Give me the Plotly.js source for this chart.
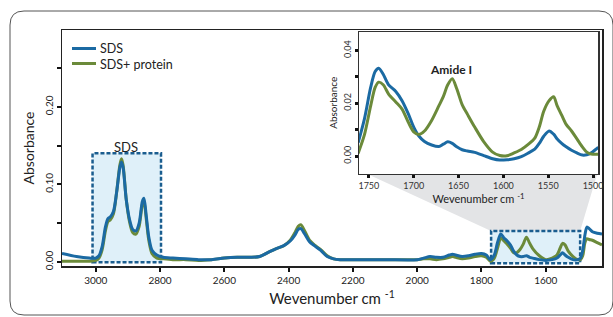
<!DOCTYPE html>
<html>
<head>
<meta charset="utf-8">
<script src="https://cdn.plot.ly/plotly-3.0.1.min.js"></script>
<style>html,body{margin:0;padding:0;background:#fff;}#chart{width:613px;height:317px;}</style>
</head>
<body>
<div id="chart"></div>
<script>
// Main spectrum (wavenumber, cm^-1, descending)
var wavenumber = [3105,3060,3020,3000,2990,2980,2970,2962,2955,2945,2935,2925,2920,2915,2905,2895,2885,2875,2865,2855,2850,2843,2835,2825,2810,2790,2760,2720,2680,2640,2600,2560,2520,2490,2465,2440,2415,2395,2380,2370,2362,2350,2335,2320,2300,2280,2260,2240,2200,2100,2000,1980,1960,1940,1920,1900,1890,1880,1860,1840,1820,1800,1785,1772,1760,1750,1740,1730,1720,1710,1700,1690,1680,1670,1660,1650,1640,1620,1600,1580,1565,1555,1548,1540,1530,1515,1500,1492,1485,1478,1472,1465,1455,1440,1425];
var sds = [0.011,0.007,0.005,0.005,0.008,0.020,0.045,0.056,0.058,0.065,0.090,0.122,0.129,0.122,0.080,0.055,0.042,0.040,0.050,0.078,0.082,0.060,0.032,0.015,0.009,0.006,0.005,0.004,0.003,0.003,0.005,0.006,0.006,0.007,0.012,0.017,0.021,0.027,0.035,0.042,0.043,0.036,0.026,0.021,0.015,0.007,0.004,0.003,0.003,0.003,0.003,0.005,0.007,0.006,0.006,0.009,0.010,0.009,0.007,0.008,0.010,0.011,0.009,0.003,0.009,0.025,0.036,0.031,0.027,0.022,0.014,0.009,0.007,0.007,0.008,0.006,0.005,0.003,0.002,0.003,0.005,0.009,0.012,0.009,0.006,0.003,0.003,0.005,0.015,0.035,0.045,0.043,0.039,0.037,0.036];
var sdsProtein = [0.001,0.001,0.001,0.002,0.005,0.016,0.040,0.052,0.054,0.062,0.090,0.125,0.133,0.125,0.080,0.052,0.038,0.036,0.046,0.074,0.078,0.056,0.028,0.011,0.005,0.004,0.003,0.003,0.002,0.003,0.005,0.006,0.006,0.007,0.012,0.017,0.021,0.028,0.038,0.046,0.048,0.040,0.028,0.022,0.016,0.008,0.004,0.003,0.003,0.003,0.003,0.004,0.004,0.003,0.004,0.006,0.007,0.006,0.004,0.005,0.007,0.008,0.006,0.001,0.005,0.018,0.031,0.027,0.023,0.018,0.012,0.012,0.016,0.023,0.032,0.024,0.017,0.008,0.003,0.005,0.009,0.018,0.024,0.022,0.014,0.007,0.003,0.003,0.008,0.025,0.030,0.029,0.028,0.025,0.022];

// Inset: amide region
var insetWavenumber = [1762,1755,1748,1743,1739,1734,1728,1720,1713,1706,1700,1694,1688,1680,1672,1667,1662,1657,1652,1646,1640,1632,1622,1612,1604,1596,1588,1580,1572,1565,1560,1555,1549,1544,1540,1535,1530,1524,1518,1512,1507,1502,1496,1494];
var insetSds = [0.005,0.014,0.026,0.032,0.0333,0.031,0.027,0.0245,0.021,0.016,0.011,0.0075,0.0055,0.0042,0.0036,0.0045,0.0054,0.0048,0.0035,0.0024,0.0019,0.0014,0.0002,-0.001,-0.0015,-0.0014,-0.001,-0.0002,0.0012,0.0026,0.0048,0.0075,0.0095,0.0083,0.0065,0.0048,0.0035,0.0022,0.0012,0.0004,0.0005,0.0012,0.0028,0.0032];
var insetSdsProtein = [0.001,0.008,0.019,0.026,0.028,0.027,0.0235,0.0205,0.0178,0.0128,0.0092,0.0082,0.0095,0.0135,0.019,0.0225,0.027,0.0293,0.0255,0.0195,0.0158,0.011,0.0055,0.0015,0.0002,0.0001,0.0012,0.0025,0.0045,0.0068,0.011,0.017,0.021,0.0225,0.019,0.0155,0.012,0.0095,0.0065,0.0035,0.0015,0.0008,0.0007,0.0007];

var seriesNames = ['SDS', 'SDS+ protein'];
var mainTicks = [3000,2800,2600,2400,2200,2000,1800,1600];
var yTicks = [0,0.10,0.20];
var yTickText = ['0.00','0.10','0.20'];
var yMinorTicks = [0.05,0.15,0.25];
var insetXTicks = [1750,1700,1650,1600,1550,1500];
var insetYTicks = [0,0.02,0.04];
var insetYTickText = ['0.00','0.02','0.04'];
var insetYMinorTicks = [0.01,0.03];

var BLUE = '#1b6aa3', GREEN = '#6b8a3a';
var FONT = 'Lato, Open Sans, sans-serif';

var traces = [
  {x: wavenumber, y: sdsProtein, name: seriesNames[1], type: 'scatter', mode: 'lines', showlegend: false,
   line: {color: GREEN, width: 3, shape: 'spline', smoothing: 0.8}, xaxis: 'x', yaxis: 'y'},
  {x: wavenumber, y: sds, name: seriesNames[0], type: 'scatter', mode: 'lines', showlegend: false,
   line: {color: BLUE, width: 3, shape: 'spline', smoothing: 0.8}, xaxis: 'x', yaxis: 'y'},
  {x: insetWavenumber, y: insetSds, type: 'scatter', mode: 'lines', showlegend: false,
   line: {color: BLUE, width: 3, shape: 'spline', smoothing: 0.8}, xaxis: 'x2', yaxis: 'y2'},
  {x: insetWavenumber, y: insetSdsProtein, type: 'scatter', mode: 'lines', showlegend: false,
   line: {color: GREEN, width: 3, shape: 'spline', smoothing: 0.8}, xaxis: 'x2', yaxis: 'y2'}
];

// paper conversion helpers (plot area: x 62..602, y 30..266)
function px(X){return (X-62)/540;}
function py(Y){return (266-Y)/236;}
var x0=px(10), x1=px(613), y0=py(315), y1=py(11), rx=14/540, ry=14/236;
var framePath = 'M'+(x0+rx)+','+y1+' L'+(x1-rx)+','+y1+' Q'+x1+','+y1+' '+x1+','+(y1-ry)+
  ' L'+x1+','+(y0+ry)+' Q'+x1+','+y0+' '+(x1-rx)+','+y0+' L'+(x0+rx)+','+y0+' Q'+x0+','+y0+' '+x0+','+(y0+ry)+
  ' L'+x0+','+(y1-ry)+' Q'+x0+','+y1+' '+(x0+rx)+','+y1+' Z';

var axisCommon = {showline: true, mirror: true, showgrid: false, zeroline: false, ticks: 'outside', tickcolor: '#111'};

var layout = {
  width: 613, height: 317,
  margin: {l: 62, r: 11, t: 30, b: 51},
  paper_bgcolor: '#ffffff', plot_bgcolor: 'rgba(0,0,0,0)',
  font: {family: FONT, color: '#222', size: 11},
  showlegend: false,
  xaxis: Object.assign({}, axisCommon, {domain: [0,1], range: [3105, 1425], tickvals: mainTicks, ticklen: 4, tickwidth: 2,
          linecolor: '#222', linewidth: 1.5, tickfont: {size: 10, color: '#222'},
          title: {text: 'Wevenumber cm <sup>-1</sup>', font: {size: 15, color: '#222'}, standoff: 9}}),
  yaxis: Object.assign({}, axisCommon, {domain: [0,1], range: [-0.0052, 0.299], tickvals: yTicks, ticktext: yTickText, ticklen: 4, tickwidth: 2,
          tickangle: -90, linecolor: '#222', linewidth: 1.5, tickfont: {size: 10, color: '#222'},
          minor: {tickvals: yMinorTicks, ticks: 'outside', ticklen: 4, tickwidth: 2, tickcolor: '#111', showgrid: false},
          title: {text: 'Absorbance', font: {size: 14, color: '#222'}, standoff: 4}}),
  xaxis2: Object.assign({}, axisCommon, {domain: [px(359), px(598)], anchor: 'y2', range: [1761, 1494.5], tickvals: insetXTicks, ticklen: 3, tickwidth: 3,
           linecolor: '#333', linewidth: 1.5, tickfont: {size: 9, color: '#333'},
           title: {text: 'Wevenumber cm <sup>-1</sup>', font: {size: 11, color: '#222'}, standoff: 2}}),
  yaxis2: Object.assign({}, axisCommon, {domain: [py(173.5), py(32)], anchor: 'x2', range: [-0.0066, 0.047], tickvals: insetYTicks, ticktext: insetYTickText,
           ticklen: 3, tickwidth: 3, tickangle: -90, linecolor: '#333', linewidth: 1.5, tickfont: {size: 9, color: '#333'},
           minor: {tickvals: insetYMinorTicks, ticks: 'outside', ticklen: 3, tickwidth: 3, tickcolor: '#111', showgrid: false},
           title: {text: 'Absorbance', font: {size: 10, color: '#222'}, standoff: 2}}),
  shapes: [
    {type: 'path', xref: 'paper', yref: 'paper', path: framePath, line: {color: '#555', width: 1}, fillcolor: 'rgba(0,0,0,0)', layer: 'below'},
    {type: 'path', xref: 'x', yref: 'y', path: 'M2155,0.1134 L1440,0.1134 L1493,0.040 L1770,0.040 Z',
     line: {width: 0}, fillcolor: '#e3e4e6', layer: 'below'},
    {type: 'rect', xref: 'x', yref: 'y', x0: 3010, x1: 2797, y0: -0.0005, y1: 0.140,
     line: {color: '#1a5d8f', width: 2.5, dash: '4px,2px'}, fillcolor: '#dff0f9', layer: 'below'},
    {type: 'rect', xref: 'x', yref: 'y', x0: 1770, x1: 1493, y0: -0.0015, y1: 0.040,
     line: {color: '#1a5d8f', width: 2.5, dash: '4px,2px'}, fillcolor: '#dff0f9', layer: 'below'},
    // legend swatches
    {type: 'line', xref: 'paper', yref: 'paper', x0: px(72), x1: px(96), y0: py(48.5), y1: py(48.5), line: {color: BLUE, width: 3}},
    {type: 'line', xref: 'paper', yref: 'paper', x0: px(72), x1: px(96), y0: py(63.5), y1: py(63.5), line: {color: GREEN, width: 3}}
  ],
  annotations: [
    {xref: 'paper', yref: 'paper', x: px(98), y: py(56), xanchor: 'left', yanchor: 'middle', align: 'left',
     text: seriesNames.join('<br>'), showarrow: false, font: {size: 12.5, color: '#222'}},
    {xref: 'x', yref: 'y', x: 2905, y: 0.148, text: 'SDS', showarrow: false, font: {size: 13, color: '#222'}},
    {xref: 'x2', yref: 'y2', x: 1658, y: 0.0327, text: '<b>Amide I</b>', showarrow: false, font: {size: 12, color: '#222'}}
  ]
};

Plotly.newPlot('chart', traces, layout, {displayModeBar: false, staticPlot: true});
</script>
</body>
</html>
